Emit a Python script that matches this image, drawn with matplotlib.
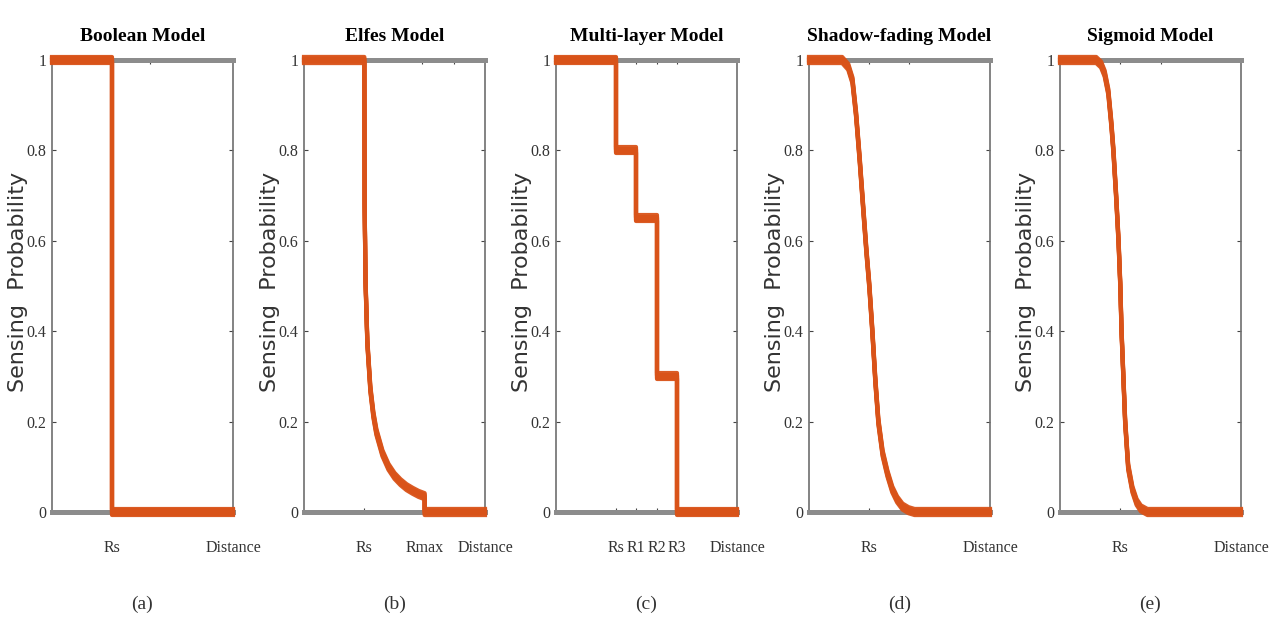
import matplotlib
matplotlib.use("Agg")
import matplotlib.pyplot as plt
import matplotlib.patheffects as pe

# sensing range markers on the distance axis
x_max = 3.0
Rs = 1.0
Rmax = 2.0
R1, R2, R3 = 1.33, 1.67, 2.0

titles = ["Boolean Model", "Elfes Model", "Multi-layer Model",
          "Shadow-fading Model", "Sigmoid Model"]
panel_tags = ["(a)", "(b)", "(c)", "(d)", "(e)"]

# boolean: full detection inside Rs, none outside
boolean_x = [0.0, Rs, x_max]
boolean_p = [1.0, 0.0, 0.0]

# elfes: exponential decay between Rs and Rmax
elfes_x = [0.0, 1.0, 1.005, 1.02, 1.05, 1.10, 1.15, 1.20, 1.30, 1.40,
           1.50, 1.60, 1.70, 1.80, 1.90, 2.0, 2.0, 3.0]
elfes_p = [1.0, 1.0, 0.68, 0.51, 0.375, 0.272, 0.215, 0.177, 0.130, 0.100,
           0.080, 0.066, 0.055, 0.047, 0.040, 0.035, 0.0, 0.0]

# multi-layer: stepwise levels between Rs, R1, R2, R3
layer_x = [0.0, Rs, R1, R2, R3, x_max]
layer_p = [1.0, 0.8, 0.65, 0.3, 0.0, 0.0]

# shadow fading
shadow_x = [0.0, 0.55, 0.65, 0.72, 0.78, 0.84, 0.90, 0.95, 1.00, 1.05, 1.10,
            1.15, 1.22, 1.30, 1.38, 1.46, 1.55, 1.65, 1.75, 3.0]
shadow_p = [1.0, 1.0, 0.985, 0.955, 0.88, 0.78, 0.67, 0.58, 0.50, 0.40, 0.29,
            0.20, 0.13, 0.085, 0.05, 0.028, 0.012, 0.004, 0.0, 0.0]

# sigmoid
sigmoid_x = [0.0, 0.60, 0.68, 0.74, 0.80, 0.85, 0.885, 0.93, 0.97, 1.00, 1.02,
             1.05, 1.08, 1.13, 1.20, 1.27, 1.34, 1.45, 3.0]
sigmoid_p = [1.0, 1.0, 0.99, 0.97, 0.93, 0.86, 0.80, 0.70, 0.60, 0.50, 0.40,
             0.30, 0.20, 0.10, 0.05, 0.022, 0.008, 0.0, 0.0]

bottom_ticks = [[Rs, x_max], [Rs, Rmax, x_max], [Rs, R1, R2, R3, x_max],
                [Rs, x_max], [Rs, x_max]]
bottom_labels = [["Rs", "Distance"], ["Rs", "Rmax", "Distance"],
                 ["Rs", "R1", "R2", "R3", "Distance"],
                 ["Rs", "Distance"], ["Rs", "Distance"]]
top_ticks = [[1.63], [1.96, 2.49], [R1, R2, R3], [1.0, 1.65], [1.0, 1.67]]

y_ticks = [0, 0.2, 0.4, 0.6, 0.8, 1.0]
y_labels = ["0", "0.2", "0.4", "0.6", "0.8", "1"]

orange = "#D95319"
serif = "Liberation Serif"

W, H = 1279, 626
fig = plt.figure(figsize=(W / 100, H / 100), dpi=100)

lefts = [52, 304, 556, 809, 1060]
curves = [(boolean_x, boolean_p, True), (elfes_x, elfes_p, False),
          (layer_x, layer_p, True), (shadow_x, shadow_p, False),
          (sigmoid_x, sigmoid_p, False)]

# vertical smear makes the flat runs thicker than the steep drops
thick = [pe.Stroke(offset=(0, d)) for d in (-2.2, -1.1, 1.1, 2.2)] + [pe.Normal()]

for i, (cx, cp, stepped) in enumerate(curves):
    ax = fig.add_axes([lefts[i] / W, (H - 512) / H, 181 / W, 452 / H])
    ax.set_xlim(0, x_max)
    ax.set_ylim(0, 1)

    if stepped:
        ln, = ax.step(cx, cp, where="post", color=orange, lw=3, clip_on=False, zorder=5)
    else:
        ln, = ax.plot(cx, cp, color=orange, lw=3, clip_on=False, zorder=5)
    ln.set_alpha(0.95)
    ln.set_path_effects(thick)

    for side in ("top", "bottom"):
        ax.spines[side].set_color("#8c8c8c")
        ax.spines[side].set_linewidth(3.6)
    for side in ("left", "right"):
        ax.spines[side].set_color("#6e6e6e")
        ax.spines[side].set_linewidth(1.2)

    ax.set_xticks(bottom_ticks[i])
    ax.set_xticklabels(bottom_labels[i], family=serif, fontsize=11.5, color="#333333")
    ax.tick_params(axis="x", direction="in", length=3, width=0.8,
                   color="#444444", pad=20)
    ax.set_yticks(y_ticks)
    ax.set_yticklabels(y_labels, family=serif, fontsize=11.5, color="#333333")
    ax.tick_params(axis="y", direction="in", length=3, width=0.8,
                   color="#444444", right=True, pad=4)

    sec = ax.secondary_xaxis("top")
    sec.set_xticks(top_ticks[i])
    sec.set_xticklabels([])
    sec.tick_params(direction="in", length=3, width=0.8, color="#444444")
    sec.spines["top"].set_visible(False)

    ax.set_title(titles[i], family=serif, fontweight="bold", fontsize=14, pad=14)
    ax.set_ylabel("Sensing  Probability", fontsize=16, color="#333333")
    ax.yaxis.set_label_coords(-0.135, 0.51)
    ax.text(0.5, -0.205, panel_tags[i], transform=ax.transAxes, ha="center",
            va="center", family=serif, fontsize=14, color="#333333")

fig.savefig("out.png", dpi=100)
